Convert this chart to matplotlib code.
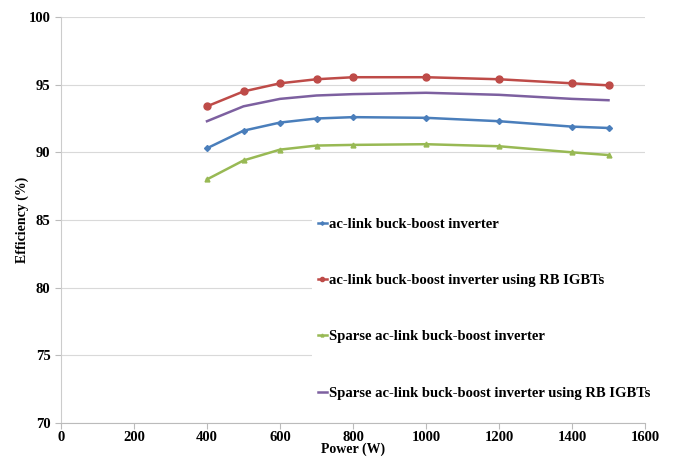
import numpy as np
import matplotlib
matplotlib.use("Agg")
import matplotlib.pyplot as plt

# Efficiency vs. power for the four inverter variants
power = [400, 500, 600, 700, 800, 1000, 1200, 1400, 1500]
eff_aclink = [90.3, 91.6, 92.2, 92.5, 92.6, 92.55, 92.3, 91.9, 91.8]
eff_aclink_rb = [93.4, 94.5, 95.1, 95.4, 95.55, 95.55, 95.4, 95.1, 94.95]
eff_sparse = [88.0, 89.4, 90.2, 90.5, 90.55, 90.6, 90.45, 90.0, 89.8]
eff_sparse_rb = [92.3, 93.4, 93.95, 94.2, 94.3, 94.4, 94.25, 93.95, 93.85]

labels = ['ac-link buck-boost inverter',
          'ac-link buck-boost inverter using RB IGBTs',
          'Sparse ac-link buck-boost inverter',
          'Sparse ac-link buck-boost inverter using RB IGBTs']
xticks = [0, 200, 400, 600, 800, 1000, 1200, 1400, 1600]
yticks = [70, 75, 80, 85, 90, 95, 100]

plt.rcParams['font.family'] = ['Liberation Serif', 'DejaVu Serif']
plt.rcParams['font.weight'] = 'bold'

fig = plt.figure(figsize=(6.74, 4.68), dpi=100)
ax = fig.add_axes([61/674, 45/468, 584/674, 406/468])

ax.plot(power, eff_aclink, color='#4a7ebb', lw=1.8, marker='D', ms=3, label=labels[0])
ax.plot(power, eff_aclink_rb, color='#be4b48', lw=1.8, marker='o', ms=5, label=labels[1])
ax.plot(power, eff_sparse, color='#98b954', lw=1.8, marker='^', ms=3.5, label=labels[2])
ax.plot(power, eff_sparse_rb, color='#7d60a0', lw=1.8, label=labels[3])

ax.set_xlim(0, 1600)
ax.set_ylim(70, 100)
ax.set_xticks(xticks)
ax.set_yticks(yticks)
ax.tick_params(axis='both', labelsize=10.5, length=4, color='#bbbbbb')
ax.tick_params(axis='x', pad=2)
ax.grid(axis='y', color='#d9d9d9', lw=0.8)
ax.set_axisbelow(True)
for side in ['top', 'right']:
    ax.spines[side].set_visible(False)
ax.spines['left'].set_color('#cccccc')
ax.spines['bottom'].set_color('#bbbbbb')

ax.set_xlabel('Power (W)', fontsize=10, fontweight='bold', labelpad=-1)
ax.set_ylabel('Efficiency (%)', fontsize=10, fontweight='bold', labelpad=0)

leg = ax.legend(loc='upper left', bbox_to_anchor=(0.43, 0.52), frameon=True,
                fontsize=10.5, handlelength=0.6, handletextpad=0.15,
                labelspacing=2.95, borderaxespad=0, markerscale=0.6)
leg.get_frame().set_facecolor('white')
leg.get_frame().set_edgecolor('none')
leg.get_frame().set_alpha(1)

fig.savefig('out.png', dpi=100)
